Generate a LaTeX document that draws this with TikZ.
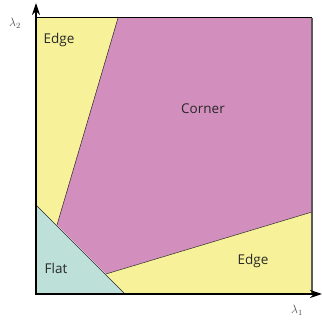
\documentclass[tikz,border=0pt]{standalone}
\usepackage{fontspec}
\setmainfont{Open Sans}
\usetikzlibrary{arrows.meta}
\definecolor{edgey}{RGB}{247,242,153}
\definecolor{cornerm}{RGB}{210,142,188}
\definecolor{flatc}{RGB}{189,224,216}
\definecolor{txt}{RGB}{40,40,40}
\tikzset{
  region/.style={draw=black!85, line width=0.5pt},
  lab/.style={font=\fontsize{13.5}{15}\selectfont, text=txt, inner sep=0pt},
  axis/.style={line width=1.4pt, -{Stealth[length=12pt,width=8pt,inset=4pt]}},
  axlab/.style={text=black!70, inner sep=0pt, font=\fontsize{12}{14}\selectfont}
}
\begin{document}
\begin{tikzpicture}[x=1pt,y=-1pt]
\useasboundingbox (0,0) rectangle (322,320);
% corners of regions
\coordinate (o) at (36,294);
\coordinate (tl) at (36,18);
\coordinate (tr) at (312,18);
\coordinate (br) at (312,294);
\coordinate (e1) at (118,18);
\coordinate (p1) at (57,225);
\coordinate (f1) at (36,205);
\coordinate (f2) at (125,294);
\coordinate (p2) at (106,274);
\coordinate (e2) at (312,212);
% regions
\fill[edgey] (tl) -- (e1) -- (p1) -- (f1) -- cycle;
\fill[cornerm] (e1) -- (tr) -- (e2) -- (p2) -- (p1) -- cycle;
\fill[edgey] (p2) -- (e2) -- (br) -- (f2) -- cycle;
\fill[flatc] (f1) -- (f2) -- (o) -- cycle;
\draw[region] (e1) -- (p1);
\draw[region] (f1) -- (f2);
\draw[region] (p2) -- (e2);
\draw[line width=1pt] (tl) -- (tr);
\draw[line width=1.2pt, black!65] (tr) -- (br);
% axes
\coordinate (ytip) at (36,3);
\coordinate (xtip) at (322,294);
\draw[axis] (o) -- (ytip);
\draw[axis] ([xshift=-0.7pt]o) -- (xtip);
% labels
\node[lab] (le1) at (59,40) {Edge};
\node[lab] (lc) at (203,109) {Corner};
\node[lab] (lf) at (56,268) {Flat};
\node[lab] (le2) at (253,261) {Edge};
\node[axlab] (l2) at (15,23) {$\lambda_{2}$};
\node[axlab] (l1) at (297,310) {$\lambda_{1}$};
\end{tikzpicture}
\end{document}
